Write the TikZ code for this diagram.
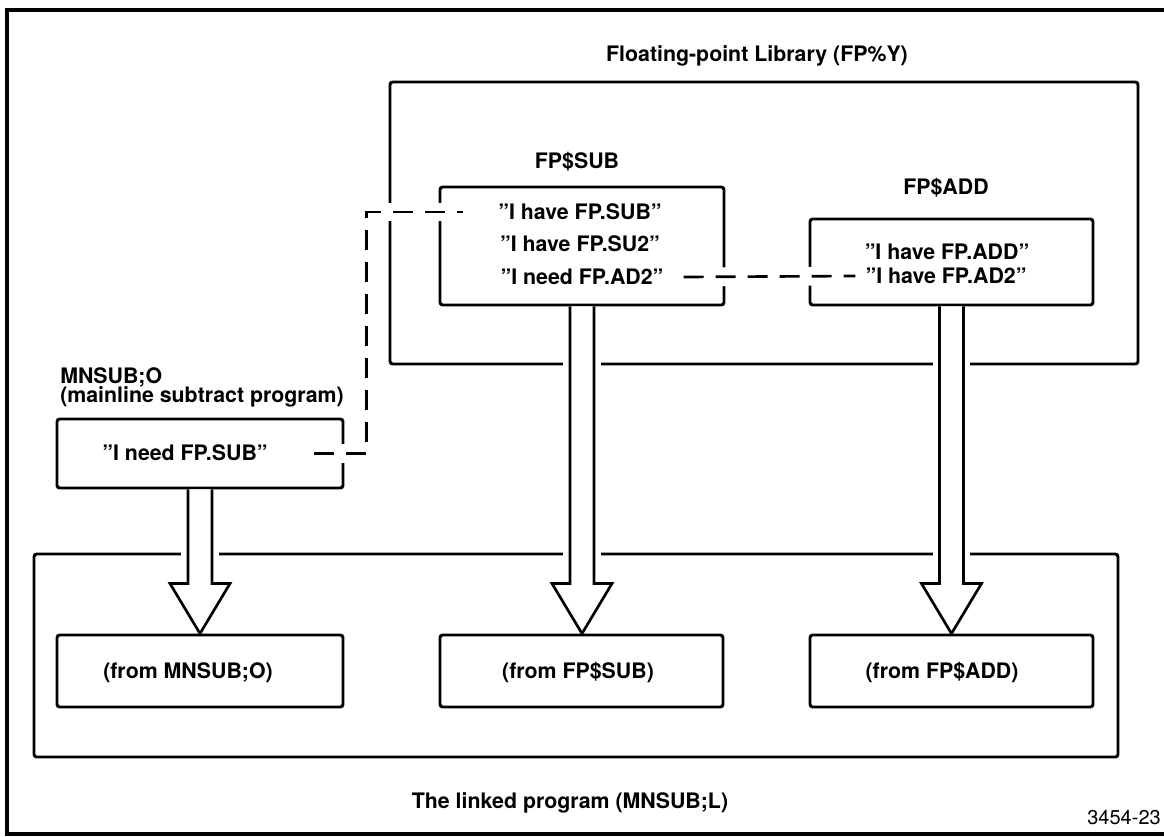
\documentclass[tikz,border=0pt]{standalone}
\usepackage{fontspec}
\setmainfont{TeX Gyre Heros}
\usetikzlibrary{calc}
\tikzset{
  box/.style={draw, line width=2.2pt, rounded corners=2pt, inner sep=0pt},
  frame/.style={draw, line width=2.4pt, inner sep=0pt},
  txt/.style={inner sep=0pt, font=\fontsize{16}{19}\selectfont\bfseries},
  numtxt/.style={inner sep=0pt, font=\fontsize{15}{18}\selectfont},
  dashlink/.style={line width=2pt, dash pattern=on 15pt off 9pt,
    preaction={draw=white, line width=14pt, solid}},
  hollow/.style={draw, line width=2pt, fill=white, line join=miter}
}
\newcommand\fatarrow[2]{%
  \fill[white] let \p1=(#1.south), \p2=(#2.north) in
    (\x1-14pt,\y1-5pt) rectangle (\x1+14pt,\y2+42pt);
  \draw[hollow] let \p1=(#1.south), \p2=(#2.north) in
    (\x1-9pt,\y1) -- (\x1-9pt,\y2+37.5pt) -- (\x1-22.5pt,\y2+37.5pt) --
    (\x1,\y2) -- (\x1+22.5pt,\y2+37.5pt) -- (\x1+9pt,\y2+37.5pt) -- (\x1+9pt,\y1);
}
\begin{document}
\begin{tikzpicture}[x=0.75pt,y=-0.75pt]
\useasboundingbox (0,0) rectangle (1164,836);
% outer frame (right edge lies just outside the page, as in the reference)
\node[frame, minimum width=870.75pt, minimum height=618pt] (outer) at (587.5,422) {};
% boxes
\node[box, minimum width=561pt, minimum height=211.5pt] (lib) at (764,223) {};
\node[box, minimum width=213pt, minimum height=88.5pt] (subbox) at (582,246) {};
\node[box, minimum width=212.25pt, minimum height=64.5pt] (addbox) at (951.5,262) {};
\node[box, minimum width=214.5pt, minimum height=51.75pt] (mbox) at (200,453.5) {};
\node[box, minimum width=813pt, minimum height=152.25pt] (linked) at (576,655.5) {};
\node[box, minimum width=214.5pt, minimum height=54pt] (o1box) at (200,671) {};
\node[box, minimum width=212.25pt, minimum height=54pt] (o2box) at (581.5,671) {};
\node[box, minimum width=212.25pt, minimum height=54pt] (o3box) at (951.5,671) {};
% texts
\node[txt] (title) at (757,56) {Floating-point Library (FP\%Y)};
\node[txt] (lsub) at (577,162) {FP\$SUB};
\node[txt] (ladd) at (946,188) {FP\$ADD};
\node[txt] (s1) at (580,212) {”I have FP.SUB”};
\node[txt] (s2) at (580,244) {”I have FP.SU2”};
\node[txt] (s3) at (582,277) {”I need FP.AD2”};
\node[txt] (a1) at (947,252) {”I have FP.ADD”};
\node[txt] (a2) at (946,276) {”I have FP.AD2”};
\node[txt, anchor=west] (mname) at (60,377) {MNSUB;O};
\node[txt, anchor=west] (mdesc) at (60,397) {(mainline subtract program)};
\node[txt] (m1) at (185,453) {”I need FP.SUB”};
\node[txt] (o1) at (188,673) {(from MNSUB;O)};
\node[txt] (o2) at (578,672) {(from FP\$SUB)};
\node[txt] (o3) at (942,672) {(from FP\$ADD)};
\node[txt] (lname) at (570,803) {The linked program (MNSUB;L)};
\node[numtxt, anchor=east] (num) at (1161,818) {3454-23};
% hollow arrows
\fatarrow{mbox}{o1box}
\fatarrow{subbox}{o2box}
\fatarrow{addbox}{o3box}
% dashed links
\draw[dashlink] ($(mbox.east)+(-30,0)$) -- ++(52,0) |- ($(s1.west)+(-35,0)$);
\draw[dashlink] ($(s3.east)+(20,0)$) -- ($(a2.west)+(-10,0)$);
\end{tikzpicture}
\end{document}
